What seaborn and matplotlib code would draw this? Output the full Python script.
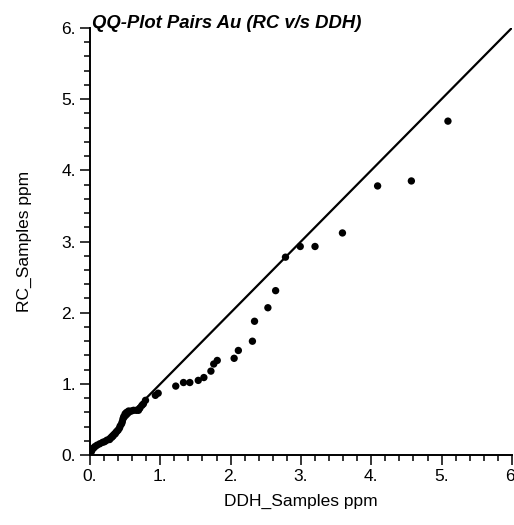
import numpy as np
import pandas as pd
import matplotlib
matplotlib.use('Agg')
import matplotlib.pyplot as plt
import seaborn as sns
from matplotlib.ticker import MultipleLocator, FuncFormatter

# Quantile pairs (DDH vs RC, ppm Au)
ddh = [0.02, 0.03, 0.05, 0.07, 0.10, 0.14, 0.18, 0.21, 0.24, 0.28, 0.31,
       0.33, 0.36, 0.38, 0.40, 0.42, 0.43, 0.45, 0.46, 0.47, 0.48, 0.50,
       0.52, 0.55, 0.59, 0.62, 0.66, 0.69, 0.71, 0.74, 0.76, 0.79, 0.93,
       0.97, 1.22, 1.33, 1.42, 1.54, 1.62, 1.72, 1.76, 1.81, 2.05, 2.11,
       2.31, 2.34, 2.53, 2.64, 2.78, 2.99, 3.20, 3.59, 4.09, 4.57, 5.09]
rc = [0.05, 0.08, 0.10, 0.12, 0.14, 0.16, 0.18, 0.19, 0.21, 0.22, 0.25,
      0.27, 0.30, 0.33, 0.35, 0.38, 0.41, 0.44, 0.47, 0.51, 0.54, 0.58,
      0.60, 0.62, 0.62, 0.63, 0.63, 0.63, 0.66, 0.70, 0.72, 0.77, 0.84,
      0.87, 0.97, 1.02, 1.02, 1.05, 1.09, 1.18, 1.28, 1.33, 1.36, 1.47,
      1.60, 1.88, 2.07, 2.31, 2.78, 2.93, 2.93, 3.12, 3.78, 3.85, 4.69]
diag = [0.0, 6.0]

df = pd.DataFrame({'DDH': ddh, 'RC': rc})
line = pd.DataFrame({'x': diag, 'y': diag})

sns.set_style('ticks')
plt.rcParams['font.family'] = ['Liberation Sans', 'DejaVu Sans']
plt.rcParams['text.color'] = 'black'
plt.rcParams['axes.labelcolor'] = 'black'
plt.rcParams['axes.edgecolor'] = 'black'
plt.rcParams['xtick.color'] = 'black'
plt.rcParams['ytick.color'] = 'black'

fig = plt.figure(figsize=(5.14, 5.25), dpi=100)
ax = fig.add_axes([0.175, 0.133, 0.821, 0.814])

sns.lineplot(data=line, x='x', y='y', color='black', linewidth=1.6, ax=ax)
sns.scatterplot(data=df, x='DDH', y='RC', color='black', s=28,
                edgecolor='none', ax=ax, zorder=3)

ax.set_xlim(0, 6)
ax.set_ylim(0, 6)
ax.xaxis.set_major_locator(MultipleLocator(1))
ax.yaxis.set_major_locator(MultipleLocator(1))
ax.xaxis.set_minor_locator(MultipleLocator(0.2))
ax.yaxis.set_minor_locator(MultipleLocator(0.2))
fmt = FuncFormatter(lambda v, p: f'{int(round(v))}.')
ax.xaxis.set_major_formatter(fmt)
ax.yaxis.set_major_formatter(fmt)
ax.tick_params(which='major', length=7, width=1.1, labelsize=12.5,
               direction='out', pad=3)
ax.tick_params(which='minor', length=4, width=1.1, direction='out')

for s in ['top', 'right']:
    ax.spines[s].set_visible(False)
for s in ['left', 'bottom']:
    ax.spines[s].set_linewidth(1.4)

ax.set_xlabel('DDH_Samples ppm', fontsize=12.5, labelpad=7)
ax.set_ylabel('RC_Samples ppm', fontsize=12.5, labelpad=21)
ax.set_title('QQ-Plot Pairs Au (RC v/s DDH)', fontsize=13.3, fontweight='bold',
             fontstyle='italic', loc='left', x=0.005, y=0.992, pad=2)

fig.savefig('out.png', dpi=100)
